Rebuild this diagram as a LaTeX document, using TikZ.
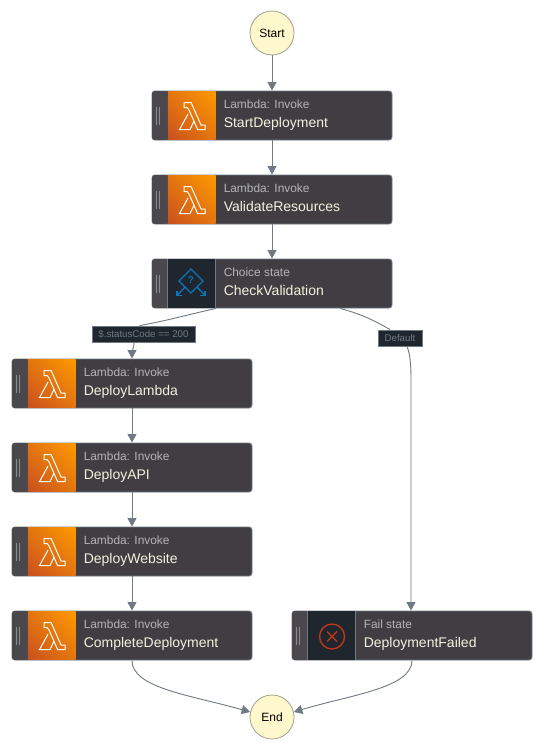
\documentclass[tikz,border=0pt]{standalone}
\usepackage{fontspec}
\setmainfont{Liberation Sans}
\usetikzlibrary{arrows.meta,calc,shadings}
\definecolor{edgecol}{HTML}{6F7A85}
\definecolor{boxfill}{HTML}{403E43}
\definecolor{stripfill}{HTML}{4A484D}
\definecolor{iconbg}{HTML}{20262E}
\definecolor{titlecol}{HTML}{F2F2DC}
\definecolor{subcol}{HTML}{B4B4B4}
\definecolor{circfill}{HTML}{FFF8CC}
\definecolor{circline}{HTML}{A0A090}
\definecolor{chblue}{HTML}{0A74BC}
\definecolor{failred}{HTML}{C8361A}
\definecolor{lamlow}{HTML}{C8501E}
\definecolor{lamhigh}{HTML}{FF9A00}
\tikzset{
  x=1pt,y=-1pt,
  statebox/.style={draw=edgecol,line width=0.9pt,fill=boxfill,rounded corners=3pt,minimum width=240pt,minimum height=49pt,inner sep=0pt},
  subtext/.style={anchor=base west,inner sep=0pt,text=subcol,font=\fontsize{11.9}{14}\selectfont},
  titletext/.style={anchor=base west,inner sep=0pt,text=titlecol,font=\fontsize{14}{16}\selectfont},
  endpoint/.style={circle,draw=circline,line width=0.8pt,fill=circfill,minimum size=44pt,inner sep=0pt,text=black,font=\fontsize{12}{14}\selectfont},
  flow/.style={draw=edgecol,line width=0.9pt},
  flowtip/.style={flow,-{Triangle[length=8.5pt,width=9pt]}},
  choicelabel/.style={draw=edgecol,line width=0.8pt,fill=iconbg,inner sep=0pt,text=edgecol,font=\fontsize{9.7}{12}\selectfont},
  handlebar/.style={draw=subcol!65!boxfill,line width=1.2pt},
}
% name, cx, cy, sub, title
\newcommand{\statebase}[5]{%
  \node[statebox] (#1) at (#2,#3) {};
  \fill[stripfill,rounded corners=3pt] ($(#1.north west)+(0.5,0.5)$) -- ($(#1.south west)+(0.5,-0.5)$) -- ($(#1.south west)+(16,-0.5)$) -- ($(#1.north west)+(16,0.5)$) -- cycle;
  \draw[handlebar] ($(#1.west)+(4.6,-9)$) -- ($(#1.west)+(4.6,9)$);
  \draw[handlebar] ($(#1.west)+(7.9,-9)$) -- ($(#1.west)+(7.9,9)$);
  \node[subtext] (#1sub) at ($(#1.west)+(72,-7.5)$) {#4};
  \node[titletext] (#1title) at ($(#1.west)+(72,11.5)$) {#5};
}
\newcommand{\lambdastate}[5]{%
  \statebase{#1}{#2}{#3}{#4}{#5}
  \shade[lower left=lamlow,lower right=lamlow!50!lamhigh,upper left=lamlow!50!lamhigh,upper right=lamhigh] ($(#1.north west)+(16.4,0.5)$) rectangle ($(#1.south west)+(64,-0.5)$);
  \draw[white,line width=1pt,line join=miter] ($(#1.west)+(40.5,0.5)$) ++(-8,-13.5) -- ++(7,0) -- ++(10,22.5) -- ++(4,0) -- ++(0,4.5) -- ++(-7.5,0) -- ++(-8.5,-19.5) -- ++(-2,-2.5) -- ++(-3,0) -- cycle;
  \draw[white,line width=1pt,line join=miter] ($(#1.west)+(40.5,0.5)$) ++(-4,-2) -- ++(-8.5,15.5) -- ++(10.5,0) -- ++(4,-8.5);
}
\newcommand{\iconback}[1]{%
  \fill[iconbg] ($(#1.north west)+(16,0.5)$) rectangle ($(#1.south west)+(64,-0.5)$);
  \draw[edgecol,line width=0.7pt] ($(#1.north west)+(16,0.5)$) -- ($(#1.south west)+(16,-0.5)$);
  \draw[edgecol,line width=0.7pt] ($(#1.north west)+(64,0.5)$) -- ($(#1.south west)+(64,-0.5)$);
}
\begin{document}
\begin{tikzpicture}
\useasboundingbox (0,0) rectangle (544,752);
\fill[white] (0,0) rectangle (544,752);
\node[endpoint] (start) at (272,33) {Start};
\lambdastate{startdep}{272}{115.5}{Lambda: Invoke}{StartDeployment}
\lambdastate{validate}{272}{199.5}{Lambda: Invoke}{ValidateResources}
\statebase{check}{272}{283.5}{Choice state}{CheckValidation}
\iconback{check}
\begin{scope}[shift={($(check.west)+(39.5,-2.5)$)},chblue,line width=1.3pt]
  \draw (0,-12) -- (12,0) -- (0,12) -- (-12,0) -- cycle;
  \draw (-6,6) -- (-14,14.5);
  \draw (6,6) -- (14,14.5);
  \draw (-14,9.5) -- (-14,14.5) -- (-9,14.5);
  \draw (14,9.5) -- (14,14.5) -- (9,14.5);
  \node[inner sep=0pt,text=chblue,font=\bfseries\fontsize{10}{12}\selectfont] (checkq) at (0,-0.5) {?};
\end{scope}
\lambdastate{deploylambda}{132}{383.5}{Lambda: Invoke}{DeployLambda}
\lambdastate{deployapi}{132}{467.5}{Lambda: Invoke}{DeployAPI}
\lambdastate{deployweb}{132}{551.5}{Lambda: Invoke}{DeployWebsite}
\lambdastate{complete}{132}{635.5}{Lambda: Invoke}{CompleteDeployment}
\statebase{failed}{412}{635.5}{Fail state}{DeploymentFailed}
\iconback{failed}
\begin{scope}[shift={($(failed.west)+(40.5,1)$)},failred,line width=1.3pt]
  \draw (0,0) circle (12.5);
  \draw (-5,-5) -- (5,5);
  \draw (-5,5) -- (5,-5);
\end{scope}
\node[endpoint] (end) at (272,717) {End};
\node[choicelabel,minimum width=103pt,minimum height=16pt] (lab200) at (143.5,334) {\$.statusCode == 200};
\node[choicelabel,minimum width=44pt,minimum height=16pt] (labdef) at (400,338) {Default};
% connectors
\draw[flowtip] (start) -- (startdep);
\draw[flowtip] (startdep) -- (validate);
\draw[flowtip] (validate) -- (check);
\draw[flow] ([xshift=-56pt]check.south) .. controls (182,316) and (170,320) .. ([xshift=-4pt]lab200.north);
\draw[flowtip] ([xshift=-9.5pt]lab200.south) .. controls (134,347) and (132,352) .. (deploylambda.north);
\draw[flowtip] (deploylambda) -- (deployapi);
\draw[flowtip] (deployapi) -- (deployweb);
\draw[flowtip] (deployweb) -- (complete);
\draw[flow] ([xshift=68pt]check.south) .. controls (358,313) and (374,320) .. ([xshift=-10pt]labdef.north);
\draw[flowtip] ([xshift=7pt]labdef.south) .. controls (411,356) and (411,370) .. (411,385) -- ([xshift=-1pt]failed.north);
\draw[flowtip] (complete.south) .. controls (132,688) and (190,695) .. (end.167);
\draw[flowtip] (failed.south) .. controls (412,688) and (350,695) .. (end.13);
\end{tikzpicture}
\end{document}
